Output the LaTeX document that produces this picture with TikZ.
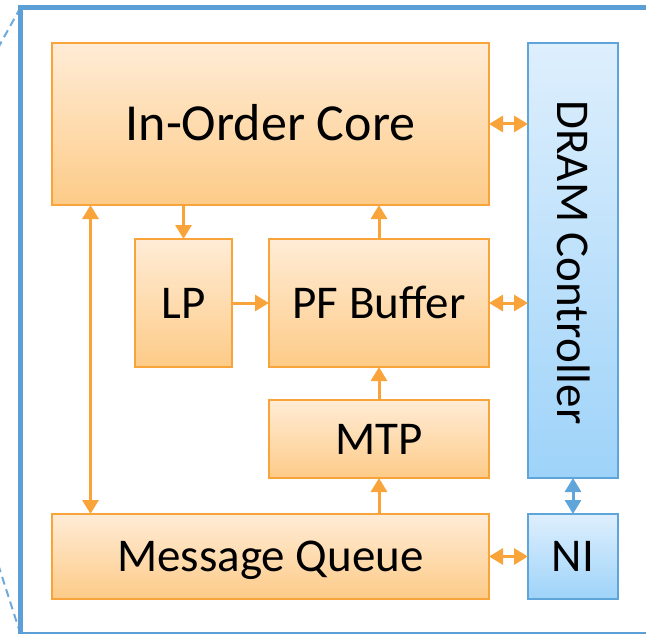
\documentclass[tikz,border=0pt]{standalone}
\usepackage{fontspec}
\setmainfont{Carlito}
\usetikzlibrary{arrows.meta,calc}

\definecolor{orline}{RGB}{249,164,58}
\definecolor{ortop}{RGB}{255,236,214}
\definecolor{orbot}{RGB}{253,203,136}
\definecolor{blline}{RGB}{95,165,218}
\definecolor{bltop}{RGB}{222,239,253}
\definecolor{blbot}{RGB}{158,211,249}
\definecolor{frameblue}{RGB}{91,159,214}
\definecolor{dashblue}{RGB}{110,170,220}

\tikzset{
  bigtext/.style={font=\fontsize{47}{56}\selectfont, text height=30.3pt, text depth=0pt},
  orblock/.style={draw=orline, line width=2.3pt, top color=ortop, bottom color=orbot,
    inner sep=0pt, outer sep=0pt, anchor=north west, bigtext},
  blblock/.style={draw=blline, line width=2.3pt, top color=bltop, bottom color=blbot,
    inner sep=0pt, outer sep=0pt, anchor=north west, bigtext},
  tip/.tip={Triangle[length=14pt,width=16pt]},
  orarrow/.style={draw=orline, line width=3pt, -tip},
  orboth/.style={draw=orline, line width=3pt, tip-tip},
  blboth/.style={draw=blline, line width=3pt, tip-tip},
}

\begin{document}
\begin{tikzpicture}[x=1pt,y=-1pt]
  \useasboundingbox (0,0) rectangle (646,634);
  \clip (0,0) rectangle (646,634);

  % zoom-out guide lines and the enclosing frame
  \coordinate (ftl) at (20.5,7.5);
  \coordinate (fbl) at (20.5,634);
  \draw[dashblue, line width=2pt, dash pattern=on 8pt off 5pt] (ftl) -- (-12,66);
  \draw[dashblue, line width=2pt, dash pattern=on 8pt off 5pt] (fbl) -- (-12,533);
  \draw[frameblue, line width=4.5pt] (ftl) rectangle (700,634);

  % blocks
  \node[orblock, minimum width=437pt, minimum height=162pt,
        font=\fontsize{52}{60}\selectfont, text height=33.5pt] (core) at (52,43) {In-Order Core};
  \node[orblock, minimum width=97pt, minimum height=128pt] (lp) at (135,239) {LP};
  \node[orblock, minimum width=220pt, minimum height=128pt] (pf) at (269,239) {PF Buffer};
  \node[orblock, minimum width=220pt, minimum height=78pt] (mtp) at (269,400) {MTP};
  \node[orblock, minimum width=437pt, minimum height=85pt] (mq) at (52,514) {Message Queue};
  \node[blblock, minimum width=90pt, minimum height=435pt] (dram) at (528,43) {};
  \node[rotate=-90, bigtext, inner sep=0pt] (dramlabel)
    at ($(dram.center)+(0,2)$) {DRAM Controller};
  \node[blblock, minimum width=90pt, minimum height=85pt] (ni) at (528,514) {NI};

  % connections
  \coordinate (mqcore) at ($(core.south west)+(38.5,0)$);
  \draw[orboth] (core.east) -- (core.east -| dram.west);
  \draw[orarrow] (lp.north |- core.south) -- (lp.north);
  \draw[orarrow] (pf.north) -- (pf.north |- core.south);
  \draw[orarrow] (lp.east) -- (lp.east -| pf.west);
  \draw[orboth] (pf.east) -- (pf.east -| dram.west);
  \draw[orarrow] (mtp.north) -- (pf.south);
  \draw[orarrow] (mq.north -| mtp.south) -- (mtp.south);
  \draw[orboth] (mqcore |- mq.north) -- (mqcore);
  \draw[orboth] (mq.east) -- (ni.west);
  \draw[blboth] (dram.south) -- (ni.north);
\end{tikzpicture}
\end{document}
